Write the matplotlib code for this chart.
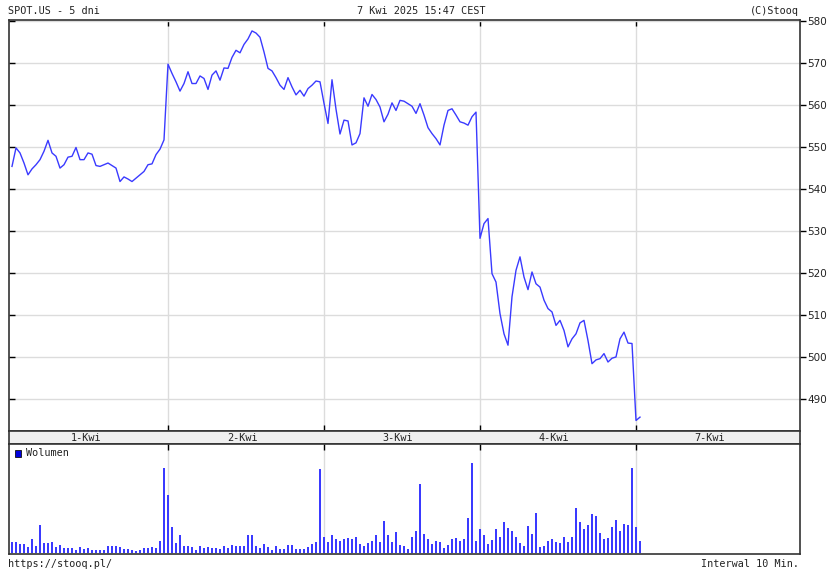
import numpy as np
import matplotlib
matplotlib.use("Agg")
import matplotlib.pyplot as plt
from matplotlib.patches import Rectangle

# 10-minute closes, one list per session (39 bars a day, 7-Kwi only 2 so far)
day_labels = ["1-Kwi", "2-Kwi", "3-Kwi", "4-Kwi", "7-Kwi"]

price_d1 = [545.4, 549.8, 548.6, 546.2, 543.4, 544.8, 545.8, 547.0, 549.0, 551.6,
            548.6, 547.8, 545.0, 545.8, 547.6, 547.8, 549.9, 547.0, 547.0, 548.6,
            548.3, 545.6, 545.4, 545.8, 546.2, 545.6, 545.0, 541.8, 542.9, 542.4,
            541.8, 542.6, 543.4, 544.2, 545.8, 546.0, 548.2, 549.5, 551.7]
price_d2 = [569.7, 567.5, 565.5, 563.3, 565.1, 567.9, 565.1, 565.1, 566.9, 566.3,
            563.7, 567.1, 568.1, 565.9, 568.8, 568.7, 571.3, 573.0, 572.4, 574.4,
            575.7, 577.6, 577.1, 576.1, 572.6, 568.7, 568.1, 566.5, 564.7, 563.7,
            566.5, 564.3, 562.4, 563.5, 562.1, 563.9, 564.7, 565.7, 565.5]
price_d3 = [560.4, 555.6, 566.0, 559.0, 553.1, 556.4, 556.2, 550.5, 551.0, 553.2,
            561.7, 559.7, 562.5, 561.3, 559.5, 556.0, 557.8, 560.5, 558.7, 561.1,
            560.9, 560.3, 559.7, 558.0, 560.3, 557.6, 554.6, 553.2, 552.0, 550.5,
            555.2, 558.7, 559.1, 557.6, 556.0, 555.7, 555.2, 557.2, 558.3]
price_d4 = [528.3, 531.8, 533.0, 519.9, 517.9, 510.4, 505.6, 502.9, 514.4, 520.7,
            523.9, 519.1, 516.1, 520.3, 517.5, 516.7, 513.6, 511.6, 510.8, 507.6,
            508.8, 506.4, 502.5, 504.4, 505.6, 508.2, 508.8, 504.0, 498.5, 499.4,
            499.7, 500.9, 498.9, 499.8, 500.1, 504.4, 506.0, 503.4, 503.3]
price_d5 = [485.0, 485.8]

vol_d1 = [33, 33, 26, 26, 18, 42, 20, 82, 30, 30, 32, 18, 23, 15, 15, 13, 8, 17, 11, 15,
          8, 8, 8, 8, 20, 20, 20, 17, 12, 12, 8, 6, 8, 15, 15, 17, 15, 36, 254]
vol_d2 = [174, 76, 30, 52, 21, 21, 16, 8, 20, 13, 17, 13, 14, 10, 20, 14, 22, 20, 20, 20,
          54, 52, 20, 14, 26, 18, 9, 21, 10, 12, 22, 22, 12, 10, 10, 16, 26, 32, 252]
vol_d3 = [46, 33, 54, 40, 34, 42, 45, 40, 46, 25, 20, 30, 36, 54, 32, 95, 54, 32, 63, 23,
          20, 10, 46, 66, 206, 57, 42, 26, 36, 32, 14, 23, 42, 44, 36, 42, 104, 270, 36]
vol_d4 = [70, 53, 26, 38, 70, 48, 91, 73, 64, 48, 30, 20, 79, 56, 118, 17, 20, 36, 42, 32,
          29, 48, 32, 48, 134, 91, 70, 82, 115, 110, 60, 42, 44, 76, 98, 64, 85, 82, 254]
vol_d5 = [76, 36]

price = np.array(price_d1 + price_d2 + price_d3 + price_d4 + price_d5)
vol_d3 = vol_d3[:39]
volume = np.array(vol_d1 + vol_d2 + vol_d3 + vol_d4 + vol_d5)
idx = np.arange(len(price))
day_starts = [39, 78, 117, 156]

blue = "#3a3aff"
grid_c = "#dcdcdc"
mono = "DejaVu Sans Mono"

fig = plt.figure(figsize=(8.3, 5.8), dpi=100)
W, H = 830, 580


def box(l, t, r, b):
    return [l / W, 1 - b / H, (r - l) / W, (b - t) / H]


# price panel
ax = fig.add_axes(box(9, 20, 800, 431))
ax.plot(idx, price, color=blue, lw=1.0)
ax.set_xlim(-0.75, 197)
ax.set_ylim(482.5, 580.2)
ax.set_yticks(np.arange(490, 581, 10))
ax.set_xticks(day_starts)
ax.set_xticklabels([])
ax.grid(True, color=grid_c, lw=1.0)
ax.set_axisbelow(True)
ax.yaxis.tick_right()
ax.tick_params(axis="y", which="both", right=True, left=True, direction="out",
               length=4, width=1, labelsize=7.5, pad=1, labelcolor="#222222")
for t in ax.yaxis.get_major_ticks():
    t.tick1line.set_visible(True)
    t.tick1line.set_marker(matplotlib.lines.TICKRIGHT)
ax.tick_params(axis="x", top=True, bottom=True, direction="in", length=4, width=1)
for s in ax.spines.values():
    s.set_color("#333333")
    s.set_linewidth(1.2)

# date band
band = fig.add_axes(box(9, 431, 800, 444))
band.set_facecolor("#efefef")
band.set_xlim(-0.75, 197)
band.set_ylim(0, 1)
band.set_xticks([])
band.set_yticks([])
for s in band.spines.values():
    s.set_color("#333333")
    s.set_linewidth(1.2)
for d, lab in enumerate(day_labels):
    band.text(39 * d + 18.5, 0.45, lab, ha="center", va="center",
              family=mono, fontsize=7.3, color="#222222")

# volume panel
vx = fig.add_axes(box(9, 444, 800, 554))
vx.bar(idx, volume, width=0.33, color=blue, linewidth=0)
vx.set_xlim(-0.75, 197)
vx.set_ylim(-4, 326)
vx.set_xticks(day_starts)
vx.set_xticklabels([])
vx.set_yticks([])
vx.grid(True, axis="x", color=grid_c, lw=1.0)
vx.set_axisbelow(True)
vx.tick_params(axis="x", top=True, bottom=False, direction="in", length=4, width=1)
for s in vx.spines.values():
    s.set_color("#333333")
    s.set_linewidth(1.2)
vx.add_patch(Rectangle((0.0076, 0.882), 0.0076, 0.064, transform=vx.transAxes,
                       facecolor="#0000dd", edgecolor="#111111", lw=0.6))
vx.text(0.021, 0.915, "Wolumen", transform=vx.transAxes, ha="left", va="center",
        family=mono, fontsize=7.3, color="#222222")

# header and footer
fig.text(8 / W, 1 - 11 / H, "SPOT.US - 5 dni", ha="left", va="center",
         family=mono, fontsize=7.3, color="#222222")
fig.text(421 / W, 1 - 11 / H, "7 Kwi 2025 15:47 CEST", ha="center", va="center",
         family=mono, fontsize=7.3, color="#222222")
fig.text(799 / W, 1 - 11 / H, "(C)Stooq", ha="right", va="center",
         family=mono, fontsize=7.3, color="#222222")
fig.text(8 / W, 1 - 564 / H, "https://stooq.pl/", ha="left", va="center",
         family=mono, fontsize=7.3, color="#222222")
fig.text(799 / W, 1 - 564 / H, "Interwal 10 Min.", ha="right", va="center",
         family=mono, fontsize=7.3, color="#222222")

fig.savefig("out.png", dpi=100, facecolor="white")
